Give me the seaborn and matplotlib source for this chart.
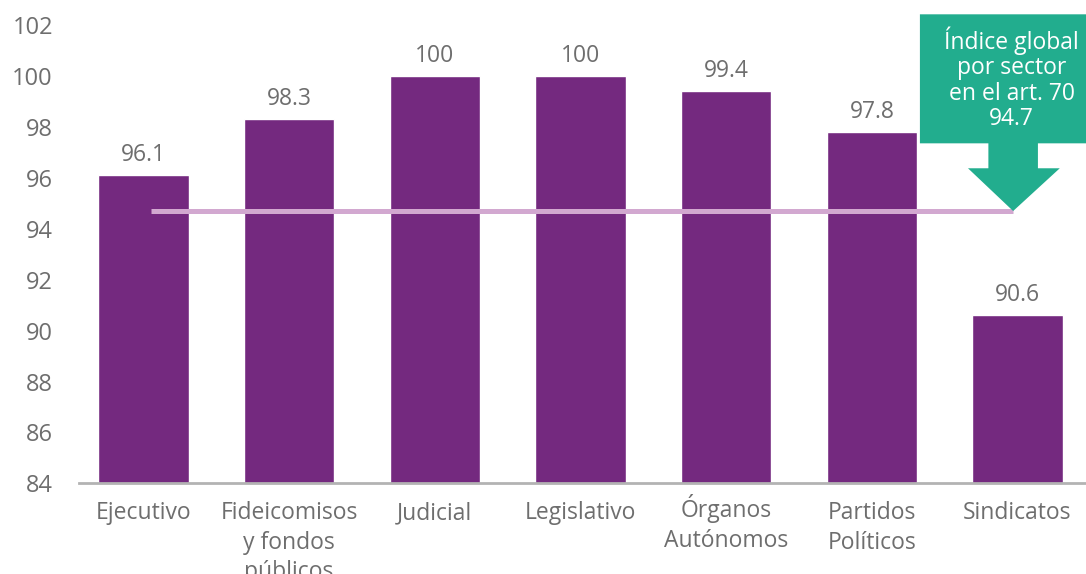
import matplotlib
matplotlib.use("Agg")
import matplotlib.pyplot as plt
import matplotlib.transforms as mtransforms
import seaborn as sns
import pandas as pd
from matplotlib.patches import Polygon

sectores = ["Ejecutivo", "Fideicomisos\ny fondos\npúblicos", "Judicial", "Legislativo",
            "Órganos\nAutónomos", "Partidos\nPolíticos", "Sindicatos"]
indice = [96.1, 98.3, 100, 100, 99.4, 97.8, 90.6]
etiquetas = ["96.1", "98.3", "100", "100", "99.4", "97.8", "90.6"]
indice_global = 94.7
y_ticks = [84, 86, 88, 90, 92, 94, 96, 98, 100, 102]

sns.set_style("white")
plt.rcParams['font.family'] = ['Open Sans', 'DejaVu Sans']

gris = "#6e6e6e"
morado = "#74297f"
verde = "#22ad8e"

df = pd.DataFrame({"sector": sectores, "indice": indice})

fig, ax = plt.subplots(figsize=(10.86, 5.74), dpi=100)
fig.subplots_adjust(left=0.073, right=1.0, top=0.956, bottom=0.158)

sns.barplot(data=df, x="sector", y="indice", color=morado, saturation=1,
            width=0.62, ax=ax)
ax.bar_label(ax.containers[0], labels=etiquetas, padding=6, fontsize=16.5, color=gris)

ax.set_ylim(84, 102)
ax.set_xlim(-0.44, 6.47)
ax.set_yticks(y_ticks)
ax.set_xlabel("")
ax.set_ylabel("")
ax.tick_params(axis="y", length=0, labelsize=17, labelcolor=gris, pad=19)
ax.tick_params(axis="x", length=0, labelsize=16.5, labelcolor=gris, pad=13)
for lbl in ax.get_xticklabels():
    lbl.set_linespacing(1.3)
    if lbl.get_text().startswith("Ó"):
        # el acento empuja la etiqueta hacia abajo
        lbl.set_transform(lbl.get_transform() +
                          mtransforms.ScaledTranslation(0, 5 / 72, fig.dpi_scale_trans))
for s in ["top", "right", "left"]:
    ax.spines[s].set_visible(False)
ax.spines["bottom"].set_color("#b3b3b3")
ax.spines["bottom"].set_linewidth(2)

# linea del indice global
ax.plot([0.05, 5.97], [indice_global, indice_global], color="#d2a8d0", lw=3.6,
        solid_capstyle="butt", zorder=3)

# recuadro con flecha
flecha = [(5.33, 102.43), (6.6, 102.43), (6.6, 97.36), (6.14, 97.36), (6.14, 96.38),
          (6.29, 96.38), (5.97, indice_global), (5.66, 96.38), (5.80, 96.38),
          (5.80, 97.36), (5.33, 97.36)]
ax.add_patch(Polygon(flecha, closed=True, facecolor=verde, edgecolor="none",
                     clip_on=False, zorder=4))
ax.text(5.96, 99.9, "Índice global\npor sector\nen el art. 70\n94.7", ha="center",
        va="center", color="white", fontsize=16.5, linespacing=1.08, zorder=5,
        clip_on=False)

fig.savefig("out.png", dpi=100)
